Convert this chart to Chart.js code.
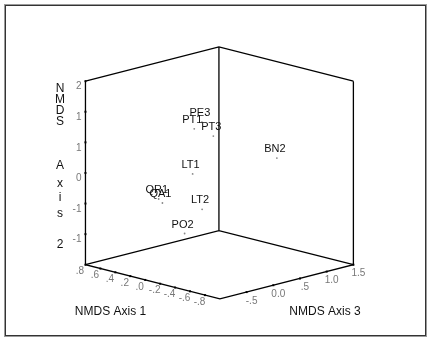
<!DOCTYPE html>
<html><head><meta charset="utf-8">
<script src="https://cdn.jsdelivr.net/npm/chart.js@4"></script>
<style>html,body{margin:0;padding:0;background:#fff}canvas{display:block}</style>
</head><body><canvas id="c" width="431" height="341"></canvas>
<script>
// ---- data ----
const sites = ["PE3","PT1","PT3","LT1","LT2","BN2","QR1","QA1","PO2"];
const axis1 = [0.17, 0.13, 0.16, 0.08, -0.19, -0.19, 0.32, 0.27, -0.17];
const axis2 = [0.88, 0.82, 0.56, -0.02, -0.56, 0.07, -0.52, -0.58, -0.96];
const axis3 = [0.30, 0.10, 0.50, 0.00, -0.20, 1.20, -0.30, -0.30, -0.50];
const axis1Range = [-1.0, 0.8];
const axis2Range = [-1.8, 1.8];
const axis3Range = [-1.0, 1.5];
const axis1Ticks = [0.8, 0.6, 0.4, 0.2, 0, -0.2, -0.4, -0.6, -0.8];
const axis1TickLabels = [".8", ".6", ".4", ".2", ".0", "-.2", "-.4", "-.6", "-.8"];
const axis2Ticks = [1.8, 1.2, 0.6, 0, -0.6, -1.2];
const axis2TickLabels = ["2", "1", "1", "0", "-1", "-1"];
const axis3Ticks = [-0.5, 0, 0.5, 1.0, 1.5];
const axis3TickLabels = ["-.5", "0.0", ".5", "1.0", "1.5"];
const axis1Title = "NMDS Axis 1";
const axis2TitleChars = ["N","M","D","S","A","x","i","s","2"];
const axis3Title = "NMDS Axis 3";

// ---- oblique projection (layout) ----
const ORIGIN = {x: 220, y: 302};
const V1 = {x: -137/1.8, y: -35/1.8};
const V2 = {x: 0, y: -188/3.6};
const V3 = {x: 136/2.5, y: -35/2.5};
function proj(a1, a2, a3) {
  const d1 = a1 - axis1Range[0], d2 = a2 - axis2Range[0], d3 = a3 - axis3Range[0];
  return {x: ORIGIN.x + d1*V1.x + d2*V2.x + d3*V3.x,
          y: ORIGIN.y + d1*V1.y + d2*V2.y + d3*V3.y};
}
const [lo1, hi1] = axis1Range, [lo2, hi2] = axis2Range, [lo3, hi3] = axis3Range;
const A = proj(hi1, lo2, lo3), At = proj(hi1, hi2, lo3);
const O = proj(lo1, lo2, lo3);
const C = proj(lo1, lo2, hi3), Ct = proj(lo1, hi2, hi3);
const B = proj(hi1, lo2, hi3), Bt = proj(hi1, hi2, hi3);

function edge(pts) {
  return {type: 'line', data: pts, showLine: true, borderColor: '#000', borderWidth: 1.3,
          pointRadius: 0, tension: 0, fill: false};
}
const pointData = sites.map((s, i) => proj(axis1[i], axis2[i], axis3[i]));
const tick1 = axis1Ticks.map(v => proj(v, lo2, lo3));
const tick2 = axis2Ticks.map(v => proj(hi1, v, lo3));
const tick3 = axis3Ticks.map(v => proj(lo1, lo2, v));
function tickSet(pts) {
  return {type: 'scatter', data: pts, pointStyle: 'rect', pointRadius: 1.4,
          backgroundColor: '#000', borderWidth: 0};
}

const FONT = '"Liberation Sans", Arial, sans-serif';
const labelPlugin = {
  id: 'labels3d',
  afterDatasetsDraw(chart) {
    const ctx = chart.ctx, xs = chart.scales.x, ys = chart.scales.y;
    const px = p => ({x: xs.getPixelForValue(p.x), y: ys.getPixelForValue(p.y)});
    ctx.save();
    // point labels
    ctx.font = '11px ' + FONT; ctx.fillStyle = '#111';
    ctx.textAlign = 'center'; ctx.textBaseline = 'middle';
    const meta = chart.getDatasetMeta(4);
    meta.data.forEach((el, i) => ctx.fillText(sites[i], el.x - 2, el.y - 9));
    // tick labels
    ctx.font = '10px ' + FONT; ctx.fillStyle = '#777';
    tick1.forEach((p, i) => { const q = px(p); ctx.fillText(axis1TickLabels[i], q.x - 5.5, q.y + 7); });
    tick3.forEach((p, i) => { const q = px(p); ctx.fillText(axis3TickLabels[i], q.x + 5, q.y + 9); });
    ctx.textAlign = 'right';
    tick2.forEach((p, i) => { const q = px(p); ctx.fillText(axis2TickLabels[i], q.x - 4, q.y + 5.5); });
    // titles
    ctx.font = '12px ' + FONT; ctx.fillStyle = '#111'; ctx.textAlign = 'center';
    ctx.fillText(axis1Title, 110.5, 312);
    ctx.fillText(axis3Title, 325, 312);
    const ty = [89, 100, 111, 122, 166, 184, 198, 214, 245];
    axis2TitleChars.forEach((ch, i) => ctx.fillText(ch, 60, ty[i]));
    ctx.restore();
  },
  afterDraw(chart) {
    const ctx = chart.ctx;
    ctx.save();
    ctx.lineWidth = 1;
    ctx.strokeStyle = '#9a9a9a'; ctx.strokeRect(4.5, 4.5, 422, 332);
    ctx.strokeStyle = '#333'; ctx.strokeRect(5.5, 5.5, 420, 330);
    ctx.restore();
  }
};

new Chart(document.getElementById('c'), {
  type: 'scatter',
  data: {datasets: [
    edge([At, A, O, C, Ct]),
    edge([At, Bt, Ct]),
    edge([A, B, C]),
    edge([B, Bt]),
    {type: 'scatter', data: pointData, pointRadius: 0.9, backgroundColor: '#888', borderWidth: 0},
    tickSet(tick1), tickSet(tick2), tickSet(tick3)
  ]},
  options: {
    responsive: false, devicePixelRatio: 1, animation: false,
    layout: {padding: 0},
    plugins: {legend: {display: false}, tooltip: {enabled: false}},
    scales: {
      x: {type: 'linear', min: 0, max: 431, display: false},
      y: {type: 'linear', min: 0, max: 341, reverse: true, display: false}
    }
  },
  plugins: [labelPlugin]
});
</script></body></html>
